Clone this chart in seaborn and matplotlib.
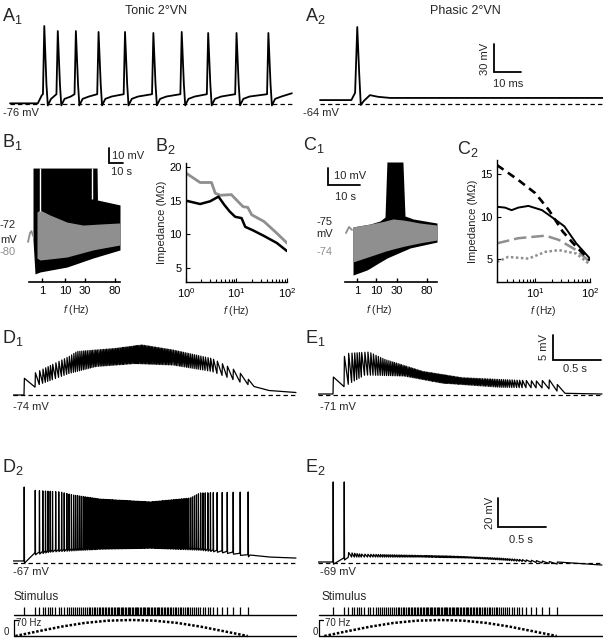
import numpy as np
import matplotlib
matplotlib.use("Agg")
import matplotlib.pyplot as plt
import seaborn as sns

W, H = 603, 640
GRAY = "#8f8f8f"
DASH = (0, (3.5, 2.5))

# ── A: single sweeps (ms, mV) ────────────────────────────────────────────────
a1_spike_ms = [12.7, 17.7, 24.4, 32.8, 42.6, 53.1, 63.6, 73.4, 83.9, 95.7]
a1_peak_mv = [7.6, 2.2, 2.2, 1.2, 1.2, 0.1, 1.2, 0.1, 0.1, 0.1]
a2_t_ms = [0, 11.6, 13.0, 13.8, 14.5, 15.1, 16.3, 18.5, 21.5, 26.0, 104.8]
a2_v_mv = [-59.8, -59.8, -52, 18.5, -30, -65, -60.5, -54.5, -56.3, -57.5, -57.5]

# ── B1 / C1: ZAP response envelopes (s, mV) ──────────────────────────────────
b1_bump_t = [-0.7, 0.7, 1.8, 2.9]
b1_bump_v = [-76.0, -70.0, -68.7, -72.0]
b1_black_t = [2.86, 4.29, 7.86, 27.1, 45.7, 48.6, 48.9, 65.0]
b1_black_top = [-26.7, -26.7, -26.7, -26.7, -26.7, -26.7, -48.0, -51.3]
b1_black_bot = [-74.7, -97.3, -96.0, -92.7, -86.7, -85.9, -85.8, -81.3]
b1_gray_t = [5.71, 7.86, 15.0, 27.1, 38.6, 45.7, 50.7, 65.0]
b1_gray_top = [-56.0, -54.7, -58.0, -62.7, -64.7, -64.3, -64.0, -63.3]
b1_gray_bot = [-86.7, -88.0, -87.3, -86.0, -83.1, -81.3, -80.4, -78.0]
b1_gap_t = [7.9, 45.0]
b1_gap_lo = [-55.0, -47.0]
b1_tick_t = [9.3, 25.7, 40.0, 61.4]
zap_tick_labels = ["1", "10", "30", "80"]

c1_bump_t = [-2.2, -1.25, -0.3]
c1_bump_v = [-76.8, -73.2, -75.0]
c1_black_t = [0, 4.38, 5.31, 8.44, 10.0, 10.6, 15.6, 16.25, 17.8, 18.75, 26.25]
c1_black_top = [-73.2, -71.8, -71.5, -69.7, -67.4, -35.0, -35.0, -66.8, -67.8, -68.5, -70.9]
c1_black_bot = [-101.5, -98.5, -97.5, -93.9, -92.2, -91.5, -87.4, -86.9, -85.6, -85.2, -82.1]
c1_gray_t = [0, 5.31, 9.4, 10.0, 12.5, 15.6, 17.8, 20.9, 26.25]
c1_gray_top = [-73.2, -71.5, -70.0, -69.7, -68.5, -69.1, -69.8, -70.9, -72.1]
c1_gray_bot = [-93.8, -90.5, -87.9, -87.5, -86.2, -84.7, -83.8, -82.6, -80.9]
c1_tick_t = [1.25, 7.19, 13.75, 23.1]

# ── B2 / C2: impedance profiles (Hz, MOhm) ───────────────────────────────────
b2_f_black = [1, 1.9, 3.0, 4.4, 5.7, 7.3, 9.4, 12.6, 14.9, 21, 35, 63, 100]
b2_z_black = [15.0, 14.5, 14.9, 15.6, 14.4, 13.4, 12.6, 12.4, 11.1, 10.6, 9.75, 8.7, 7.5]
b2_f_gray = [1, 1.9, 3.2, 3.8, 4.8, 7.9, 10, 13.5, 16.7, 20, 35, 58, 100]
b2_z_gray = [19.1, 17.7, 17.7, 16.1, 15.8, 15.9, 15.1, 14.1, 14.0, 12.9, 11.9, 10.4, 8.7]

c2_f_dash = [2, 4.9, 10, 17.8, 31.6, 56, 100]
c2_z_dash = [16.1, 14.35, 12.8, 10.8, 8.3, 6.5, 4.9]
c2_f_solid = [2, 2.8, 3.7, 4.9, 7.5, 13.3, 23.7, 34, 56, 100]
c2_z_solid = [11.2, 11.1, 10.8, 11.1, 11.3, 10.8, 9.65, 8.9, 6.9, 5.1]
c2_f_gdash = [2, 4.9, 15.4, 27, 56, 100]
c2_z_gdash = [6.9, 7.5, 7.8, 7.3, 6.1, 4.7]
c2_f_gdot = [2, 3.2, 7.5, 15.4, 27, 56, 100]
c2_z_gdot = [4.7, 5.3, 5.1, 5.9, 6.1, 5.7, 4.4]

# ── Stimulus: pulse times (s) and rate profile ───────────────────────────────
stim_pulse_s = [
    0.000, 0.115, 0.159, 0.194, 0.222, 0.247, 0.271, 0.295, 0.328, 0.360,
    0.390, 0.417, 0.444, 0.468, 0.492, 0.515, 0.536, 0.557, 0.578, 0.598,
    0.618, 0.636, 0.655, 0.674, 0.692, 0.708, 0.726, 0.743, 0.759, 0.777,
    0.794, 0.810, 0.826, 0.842, 0.857, 0.873, 0.889, 0.904, 0.919, 0.934,
    0.949, 0.964, 0.978, 0.994, 1.008, 1.023, 1.036, 1.051, 1.066, 1.080,
    1.095, 1.109, 1.123, 1.138, 1.152, 1.165, 1.178, 1.192, 1.207, 1.221,
    1.235, 1.250, 1.264, 1.279, 1.294, 1.307, 1.322, 1.336, 1.352, 1.366,
    1.381, 1.396, 1.411, 1.426, 1.441, 1.457, 1.473, 1.488, 1.504, 1.520,
    1.536, 1.553, 1.571, 1.587, 1.604, 1.622, 1.638, 1.656, 1.675, 1.694,
    1.712, 1.732, 1.752, 1.773, 1.794, 1.815, 1.838, 1.862, 1.886, 1.913,
    1.940, 1.970, 2.010, 2.063, 2.115, 2.177, 2.250, 2.333,
]
ramp_t = [-0.09, 0.15, 0.39, 0.63, 0.87, 1.12, 1.36, 1.60, 1.84, 2.08, 2.33]
ramp_hz = [0, 21, 41, 57, 67, 70, 67, 57, 41, 21, 0]

# ── D / E: responses to the stimulus (s, mV) ─────────────────────────────────
d1_lo_t = [-0.115, 0.0, 0.052, 0.146, 0.469, 0.75, 1.156, 1.552, 1.958, 2.229, 2.396, 2.552, 2.833]
d1_lo_v = [-74.0, -74.0, -73.3, -72.0, -69.7, -68.3, -67.7, -68.0, -69.3, -71.3, -72.3, -73.1, -73.5]
d1_hi_t = [0.0, 0.146, 0.469, 0.552, 0.948, 1.229, 1.552, 1.958, 2.229, 2.396]
d1_hi_v = [-70.7, -69.3, -66.3, -65.3, -64.7, -64.0, -65.0, -66.7, -69.3, -71.7]

e1_lo_t = [-0.156, 0.0, 0.052, 0.333, 0.74, 1.135, 1.74, 2.219, 2.417, 2.802]
e1_lo_v = [-70.8, -70.8, -70.0, -67.0, -67.2, -68.6, -69.45, -69.6, -70.66, -70.8]
e1_hi_t = [0.0, 0.135, 0.375, 0.542, 0.938, 1.344, 1.74, 2.135, 2.302, 2.385]
e1_hi_v = [-67.55, -62.7, -62.4, -63.9, -66.3, -67.55, -67.9, -68.2, -67.9, -70.3]

d2_lo_t = [-0.115, 0.0, 0.031, 0.094, 0.271, 0.792, 1.313, 1.833, 2.177, 2.354, 2.563, 2.833]
d2_lo_v = [-65.6, -65.6, -64.9, -60.1, -58.0, -56.0, -55.3, -56.7, -59.4, -61.5, -62.9, -63.6]
d2_pk_t = [0.0, 0.063, 0.375, 0.51, 0.792, 1.313, 1.729, 1.833, 2.333]
d2_pk_v = [-14.6, -16.7, -18.0, -20.1, -22.9, -24.9, -22.2, -18.7, -18.0]

e2_lo_t = [-0.156, 0.0, 0.021, 0.177, 0.906, 1.427, 1.74, 2.05, 2.32, 2.802]
e2_lo_v = [-68.3, -68.3, -66.2, -64.9, -64.9, -65.6, -66.9, -68.3, -69.7, -70.4]
e2_hi_t = [0.125, 0.281, 0.698, 1.219, 1.74, 2.32]
e2_hi_v = [-61.4, -62.8, -63.5, -64.2, -65.6, -68.3]
e2_spike_idx = [0, 1]
e2_peak_mv = [-13.1, -13.1]

# ── Style ────────────────────────────────────────────────────────────────────
sns.set_theme(style="ticks")
plt.rcParams.update({
    "font.family": ["Liberation Sans", "DejaVu Sans"],
    "mathtext.fontset": "custom",
    "mathtext.rm": "Liberation Sans",
    "mathtext.it": "Liberation Sans:italic",
    "mathtext.bf": "Liberation Sans:bold",
    "axes.edgecolor": "black",
    "axes.linewidth": 1.0,
    "xtick.color": "black",
    "ytick.color": "black",
    "xtick.direction": "in",
    "ytick.direction": "in",
})

fig = plt.figure(figsize=(W / 100, H / 100), dpi=100)


def frac_box(x0, y0, x1, y1):
    return [x0 / W, 1 - y1 / H, (x1 - x0) / W, (y1 - y0) / H]


def trace_ax(x0, y0, x1, y1, px0, py0, v0, sx, sy, off=True):
    ax = fig.add_axes(frac_box(x0, y0, x1, y1))
    ax.set_xlim((x0 - px0) / sx, (x1 - px0) / sx)
    ax.set_ylim(v0 - (y1 - py0) / sy, v0 + (py0 - y0) / sy)
    if off:
        ax.axis("off")
    return ax


def label(x, y, s, **kw):
    kw.setdefault("fontsize", 8)
    kw.setdefault("va", "center")
    fig.text(x / W, 1 - y / H, s, **kw)


def panel(x, y, s):
    label(x, y, s, fontsize=13, va="baseline")


def scalebar(ax, x, y, dx, dy):
    ax.plot([x, x, x + dx], [y + dy, y, y], color="black", lw=1.3,
            solid_joinstyle="miter", clip_on=False)


def response(pulses, lo_t, lo_v, hi_t=None, hi_v=None, spikes=None, pk_t=None, pk_v=None):
    t, v = [lo_t[0]], [lo_v[0]]
    for i, p in enumerate(pulses):
        base = np.interp(p, lo_t, lo_v)
        if spikes is not None and i in spikes:
            top = spikes[i] if pk_t is None else np.interp(p, pk_t, pk_v)
            t += [p, p + 0.002, p + 0.005]
            v += [base, top, base - 1.5]
        else:
            t += [p, p + 0.004]
            v += [base, np.interp(p + 0.004, hi_t, hi_v)]
    for a, b in zip(lo_t, lo_v):
        if a > pulses[-1] + 0.02:
            t.append(a)
            v.append(b)
    return t, v


# ── A1 tonic ─────────────────────────────────────────────────────────────────
ax = trace_ax(8, 18, 294, 112, 10, 104, -76, 2.7, 0.933)
t = [0.0, 10.3, 11.8]
v = [-75.3, -75.3, -66.5]
for i, (ts, pk) in enumerate(zip(a1_spike_ms, a1_peak_mv)):
    nxt = a1_spike_ms[i + 1] - 0.5 if i + 1 < len(a1_spike_ms) else 200
    for dt, val in zip([-0.5, 0, 0.8, 1.3, 2.5, 4.8], [-65.5, pk, -55, -77.5, -70.5, -68.0]):
        if dt < 0 or ts + dt < nxt - 0.2:
            t.append(ts + dt)
            v.append(val)
t.append(104.4)
v.append(-64.5)
ax.plot([0, 104.4], [-76, -76], color="black", lw=0.9, ls=DASH)
ax.plot(t, v, color="black", lw=1.3)

# ── A2 phasic ────────────────────────────────────────────────────────────────
ax = trace_ax(318, 18, 603, 112, 320, 104, -64, 2.7, 0.933)
ax.plot([0, 104.8], [-64, -64], color="black", lw=0.9, ls=DASH)
ax.plot(a2_t_ms, a2_v_mv, color="black", lw=1.3)
scalebar(ax, 64.4, -29.7, 10, 30)

panel(2, 21, r"$\mathregular{A_1}$")
panel(305, 21, r"$\mathregular{A_2}$")
label(156, 11, "Tonic 2°VN", fontsize=9, ha="center")
label(465, 11, "Phasic 2°VN", fontsize=9, ha="center")
label(3, 113, "-76 mV")
label(303, 113, "-64 mV")
label(485, 59, "30 mV", rotation=90, ha="center")
label(508, 84, "10 ms", ha="center")

# ── B1 ZAP tonic ─────────────────────────────────────────────────────────────
ax = trace_ax(20, 140, 132, 282, 29, 236, -72, 1.4, 1.5, off=False)
ax.fill_between(b1_black_t, b1_black_bot, b1_black_top, color="black", lw=0)
ax.fill_between(b1_gray_t, b1_gray_bot, b1_gray_top, color=GRAY, lw=0)
ax.vlines(b1_gap_t, b1_gap_lo, -26.7, color="white", lw=1.0)
ax.plot(b1_bump_t, b1_bump_v, color=GRAY, lw=1.3)
scalebar(ax, 57.1, -23.3, 10, 10)

# ── C1 ZAP phasic ────────────────────────────────────────────────────────────
axc = trace_ax(318, 155, 440, 282, 353, 230, -75, 3.2, 1.7, off=False)
axc.fill_between(c1_black_t, c1_black_bot, c1_black_top, color="black", lw=0)
axc.fill_between(c1_gray_t, c1_gray_bot, c1_gray_top, color=GRAY, lw=0)
axc.plot(c1_bump_t, c1_bump_v, color=GRAY, lw=1.3)
scalebar(axc, -7.81, -48.5, 10, 10)

for a, ticks, lo, hi in [(ax, b1_tick_t, 0, 65), (axc, c1_tick_t, -2.5, 26.25)]:
    for s in ["left", "right", "top"]:
        a.spines[s].set_visible(False)
    a.spines["bottom"].set_bounds(lo, hi)
    a.spines["bottom"].set_linewidth(1.2)
    a.set_yticks([])
    a.set_xticks(ticks)
    a.set_xticklabels(zap_tick_labels)
    a.tick_params(axis="x", direction="in", length=3, width=1, labelsize=8, pad=3)
    a.set_xlabel("$f$ (Hz)", fontsize=7.5, labelpad=5)
    a.patch.set_alpha(0)

label(112, 156, "10 mV", ha="left")
label(111, 172, "10 s", ha="left")
label(16, 225, "-72", ha="right")
label(17, 240, "mV", ha="right")
label(16, 252, "-80", ha="right", color=GRAY)
label(334, 176, "10 mV", ha="left")
label(335, 197, "10 s", ha="left")
label(332, 222, "-75", ha="right")
label(333, 234, "mV", ha="right")
label(332, 252, "-74", ha="right", color=GRAY)

# ── B2 / C2 impedance ────────────────────────────────────────────────────────
axb2 = fig.add_axes(frac_box(186, 163, 287, 282))
axb2.set_xscale("log")
sns.lineplot(x=b2_f_gray, y=b2_z_gray, ax=axb2, color=GRAY, lw=2.0)
sns.lineplot(x=b2_f_black, y=b2_z_black, ax=axb2, color="black", lw=1.8)
axb2.set_xlim(1, 100)
axb2.set_ylim(2.9, 20.6)
axb2.set_yticks([5, 10, 15, 20])

axc2 = fig.add_axes(frac_box(497, 160, 590, 282))
axc2.set_xscale("log")
sns.lineplot(x=c2_f_gdot, y=c2_z_gdot, ax=axc2, color=GRAY, lw=1.8, linestyle=(0, (1, 1)))
sns.lineplot(x=c2_f_gdash, y=c2_z_gdash, ax=axc2, color=GRAY, lw=1.8, linestyle=(0, (5, 2)))
sns.lineplot(x=c2_f_solid, y=c2_z_solid, ax=axc2, color="black", lw=1.4)
sns.lineplot(x=c2_f_dash, y=c2_z_dash, ax=axc2, color="black", lw=1.9, linestyle=(0, (3, 2)))
axc2.set_xlim(2, 100)
axc2.set_ylim(2.35, 16.7)
axc2.set_yticks([5, 10, 15])

for a in (axb2, axc2):
    sns.despine(ax=a)
    a.patch.set_alpha(0)
    a.tick_params(which="both", direction="in", labelsize=8, width=0.8, pad=3)
    a.tick_params(which="major", length=3)
    a.tick_params(which="minor", length=2)
    a.set_xlabel("$f$ (Hz)", fontsize=7.5, labelpad=3)
    a.set_ylabel("Impedance (MΩ)", fontsize=8, labelpad=2)

panel(2, 147, r"$\mathregular{B_1}$")
panel(155, 151, r"$\mathregular{B_2}$")
panel(303, 150, r"$\mathregular{C_1}$")
panel(457, 154, r"$\mathregular{C_2}$")

# ── D / E rows ───────────────────────────────────────────────────────────────
cols = [(13, 297, 24), (318, 603, 333)]
row1 = [(-74, d1_lo_t, d1_lo_v, d1_hi_t, d1_hi_v), (-71, e1_lo_t, e1_lo_v, e1_hi_t, e1_hi_v)]
for (x0, x1, px0), (vb, lt, lv, ht, hv) in zip(cols, row1):
    ax = trace_ax(x0, 328, x1, 402, px0, 395, vb, 96, 5.0)
    tt, vv = response(stim_pulse_s, lt, lv, ht, hv)
    ax.plot([lt[0], lt[-1]], [vb, vb], color="black", lw=0.9, ls=DASH)
    ax.plot(tt, vv, color="black", lw=0.9)
    if px0 == 333:
        scalebar(ax, 2.292, -64.0, 0.5, 5)

# D2 tonic spiking
ax = trace_ax(13, 475, 297, 580, 24, 563, -67, 96, 1.45)
tt, vv = response(stim_pulse_s, d2_lo_t, d2_lo_v,
                  spikes=dict.fromkeys(range(len(stim_pulse_s)), 0.0), pk_t=d2_pk_t, pk_v=d2_pk_v)
ax.plot([d2_lo_t[0], d2_lo_t[-1]], [-67, -67], color="black", lw=0.9, ls=DASH)
ax.plot(tt, vv, color="black", lw=0.9)

# E2 phasic
ax = trace_ax(318, 475, 603, 580, 333, 563, -69, 96, 1.45)
tt, vv = response(stim_pulse_s, e2_lo_t, e2_lo_v, e2_hi_t, e2_hi_v,
                  spikes=dict(zip(e2_spike_idx, e2_peak_mv)))
ax.plot([e2_lo_t[0], e2_lo_t[-1]], [-69, -69], color="black", lw=0.9, ls=DASH)
ax.plot(tt, vv, color="black", lw=0.9)
scalebar(ax, 1.719, -44.2, 0.5, 20)

# stimulus rows
for x0, x1, px0 in cols:
    ax = trace_ax(x0, 603, x1, 617, px0, 615, 0, 96, 8)
    lo, hi = (x0 - px0) / 96, (x1 - px0) / 96
    ax.vlines(stim_pulse_s, 0, 1, color="black", lw=0.9)
    ax.plot([lo + 0.01, hi], [0, 0], color="black", lw=1.0)
    ax = trace_ax(x0, 617, x1, 640, px0, 636, 0, 96, 16 / 70)
    ax.plot([lo + 0.01, lo + 0.01, lo + 0.05], [0, 70, 70], color="black", lw=0.9, clip_on=False)
    ax.plot([lo + 0.01, hi], [0, 0], color="black", lw=1.0)
    ax.plot(ramp_t, ramp_hz, color="black", lw=1.8, ls=(0, (1.0, 0.7)))

panel(2, 343, r"$\mathregular{D_1}$")
panel(305, 343, r"$\mathregular{E_1}$")
panel(2, 472, r"$\mathregular{D_2}$")
panel(305, 472, r"$\mathregular{E_2}$")
label(13, 407, "-74 mV")
label(320, 407, "-71 mV")
label(13, 572, "-67 mV")
label(320, 572, "-69 mV")
label(544, 347, "5 mV", rotation=90, ha="center")
label(575, 369, "0.5 s", ha="center")
label(490, 513, "20 mV", rotation=90, ha="center")
label(521, 540, "0.5 s", ha="center")
for x in (13, 322):
    label(x, 597, "Stimulus", fontsize=8.5)
    label(x + 3, 623, "70 Hz", fontsize=7)
    label(x - 9, 632, "0", fontsize=7)

fig.savefig("out.png", dpi=100)
